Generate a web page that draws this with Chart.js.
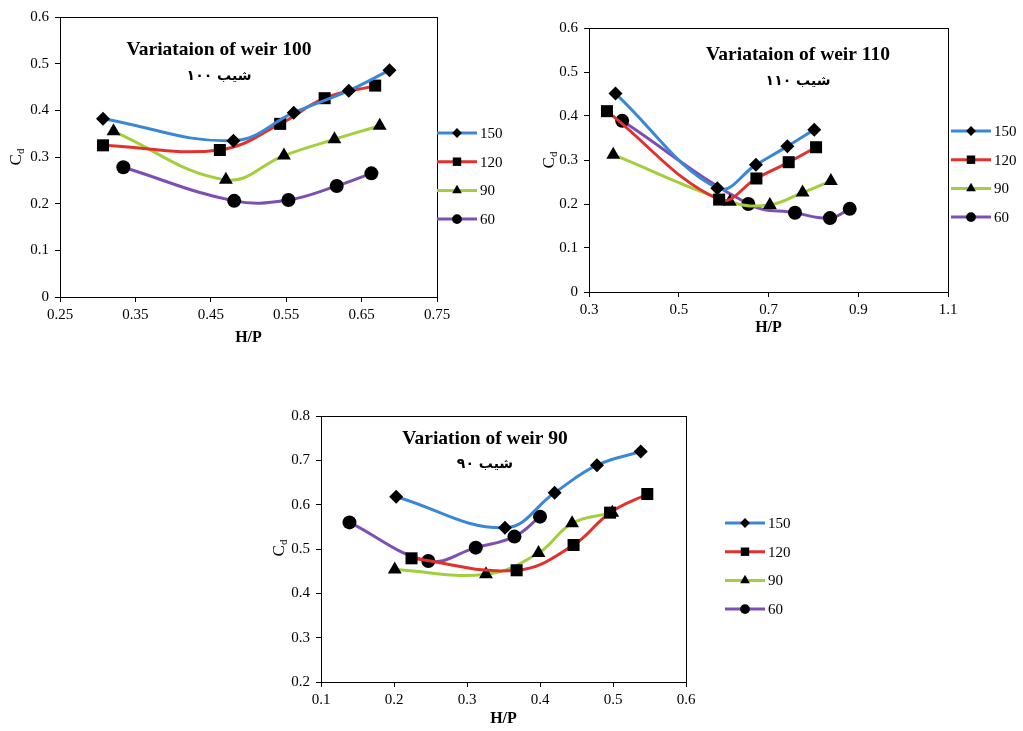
<!DOCTYPE html>
<html>
<head>
<meta charset="utf-8">
<script src="https://cdn.jsdelivr.net/npm/chart.js@4/dist/chart.umd.min.js"></script>
<style>
  body { margin: 0; background: #fff; width: 1023px; height: 731px; overflow: hidden; position: relative; }
  canvas { position: absolute; }
</style>
</head>
<body>
<canvas id="weir100" width="540" height="350" style="left:0px;top:0px"></canvas>
<canvas id="weir110" width="488" height="340" style="left:535px;top:0px"></canvas>
<canvas id="weir90" width="560" height="331" style="left:262px;top:400px"></canvas>
<script>
// series labels (discharge) and styles shared by all three charts
const seriesLabels = ['150', '120', '90', '60'];
const seriesColors = ['#3B87D6', '#E0312C', '#A4CF3C', '#7D4FB4'];
const seriesMarkers = ['rectRot', 'rect', 'triangle', 'circle'];
const markerRadius = [7, 8.5, 8, 7];

// weir 100
const w100_q150_x = [0.307, 0.480, 0.560, 0.633, 0.687];
const w100_q150_y = [0.382, 0.335, 0.395, 0.442, 0.486];
const w100_q120_x = [0.307, 0.462, 0.542, 0.601, 0.668];
const w100_q120_y = [0.325, 0.315, 0.371, 0.426, 0.453];
const w100_q90_x = [0.321, 0.470, 0.547, 0.614, 0.674];
const w100_q90_y = [0.355, 0.251, 0.303, 0.338, 0.367];
const w100_q60_x = [0.334, 0.481, 0.553, 0.617, 0.663];
const w100_q60_y = [0.278, 0.206, 0.208, 0.238, 0.265];

// weir 110
const w110_q150_x = [0.359, 0.586, 0.672, 0.742, 0.802];
const w110_q150_y = [0.451, 0.236, 0.289, 0.331, 0.369];
const w110_q120_x = [0.340, 0.590, 0.673, 0.745, 0.806];
const w110_q120_y = [0.411, 0.210, 0.258, 0.295, 0.329];
const w110_q90_x = [0.354, 0.614, 0.703, 0.776, 0.839];
const w110_q90_y = [0.312, 0.205, 0.198, 0.226, 0.252];
const w110_q60_x = [0.374, 0.655, 0.759, 0.837, 0.881];
const w110_q60_y = [0.389, 0.200, 0.180, 0.168, 0.189];

// weir 90
const w90_q150_x = [0.203, 0.352, 0.420, 0.478, 0.538];
const w90_q150_y = [0.618, 0.548, 0.627, 0.689, 0.720];
const w90_q120_x = [0.224, 0.368, 0.446, 0.496, 0.547];
const w90_q120_y = [0.479, 0.452, 0.509, 0.582, 0.624];
const w90_q90_x = [0.201, 0.326, 0.398, 0.444, 0.499];
const w90_q90_y = [0.454, 0.443, 0.491, 0.558, 0.582];
const w90_q60_x = [0.139, 0.247, 0.312, 0.365, 0.400];
const w90_q60_y = [0.560, 0.473, 0.503, 0.528, 0.573];

// tick values and labels
const w100_xTicks = [0.25, 0.35, 0.45, 0.55, 0.65, 0.75];
const w100_xLabels = ['0.25', '0.35', '0.45', '0.55', '0.65', '0.75'];
const w100_yTicks = [0, 0.1, 0.2, 0.3, 0.4, 0.5, 0.6];
const w100_yLabels = ['0', '0.1', '0.2', '0.3', '0.4', '0.5', '0.6'];
const w110_xTicks = [0.3, 0.5, 0.7, 0.9, 1.1];
const w110_xLabels = ['0.3', '0.5', '0.7', '0.9', '1.1'];
const w110_yTicks = [0, 0.1, 0.2, 0.3, 0.4, 0.5, 0.6];
const w110_yLabels = ['0', '0.1', '0.2', '0.3', '0.4', '0.5', '0.6'];
const w90_xTicks = [0.1, 0.2, 0.3, 0.4, 0.5, 0.6];
const w90_xLabels = ['0.1', '0.2', '0.3', '0.4', '0.5', '0.6'];
const w90_yTicks = [0.2, 0.3, 0.4, 0.5, 0.6, 0.7, 0.8];
const w90_yLabels = ['0.2', '0.3', '0.4', '0.5', '0.6', '0.7', '0.8'];

const serif = '"Liberation Serif", "Times New Roman", serif';

function toPoints(xs, ys) {
    return xs.map((x, i) => ({ x: x, y: ys[i] }));
}

// box around the plot area
const framePlugin = {
    id: 'frame',
    beforeDatasetsDraw(chart) {
        const a = chart.chartArea;
        const ctx = chart.ctx;
        ctx.save();
        ctx.strokeStyle = '#000';
        ctx.lineWidth = 1;
        ctx.strokeRect(Math.round(a.left) + 0.5, Math.round(a.top) + 0.5,
            Math.round(a.right - a.left), Math.round(a.bottom - a.top));
        ctx.restore();
    }
};

// titles inside the plot, the Cd axis title and the line+marker legend
const textPlugin = {
    id: 'texts',
    afterDraw(chart, args, opts) {
        const ctx = chart.ctx;
        const a = chart.chartArea;
        ctx.save();
        ctx.fillStyle = '#000';
        ctx.textAlign = 'center';
        ctx.textBaseline = 'middle';
        ctx.font = 'bold 19.5px ' + serif;
        ctx.fillText(opts.title, opts.titleX, opts.titleY);
        ctx.font = 'bold 14px "DejaVu Sans", sans-serif';
        ctx.direction = 'rtl';
        ctx.fillText(opts.subtitle, opts.titleX, opts.subY);
        ctx.direction = 'ltr';

        // y axis title C with subscript d
        ctx.translate(opts.yTitleX, opts.yTitleY);
        ctx.rotate(-Math.PI / 2);
        ctx.textAlign = 'left';
        ctx.textBaseline = 'alphabetic';
        ctx.font = '17px ' + serif;
        const cw = ctx.measureText('C').width;
        ctx.font = '11px ' + serif;
        const dw = ctx.measureText('d').width;
        const x0 = -(cw + dw) / 2;
        ctx.font = '17px ' + serif;
        ctx.fillText('C', x0, 6);
        ctx.font = '11px ' + serif;
        ctx.fillText('d', x0 + cw, 9);
        ctx.setTransform(1, 0, 0, 1, 0, 0);

        // legend
        chart.data.datasets.forEach((ds, i) => {
            const y = opts.legendTop + i * 28.7;
            const x0 = a.right + opts.legendLeft;
            const x1 = x0 + 40;
            ctx.strokeStyle = ds.borderColor;
            ctx.lineWidth = 3;
            ctx.beginPath();
            ctx.moveTo(x0, y);
            ctx.lineTo(x1, y);
            ctx.stroke();
            ctx.fillStyle = '#000';
            Chart.helpers.drawPoint(ctx, {
                pointStyle: ds.pointStyle,
                radius: ds.pointRadius * 0.7,
                rotation: 0,
                borderWidth: 0
            }, (x0 + x1) / 2, y);
            ctx.font = '15px ' + serif;
            ctx.textAlign = 'left';
            ctx.textBaseline = 'middle';
            ctx.fillText(ds.label, x1 + 3, y + 1);
        });
        ctx.restore();
    }
};

function buildChart(id, spec) {
    const datasets = spec.series.map((s, i) => ({
        label: seriesLabels[i],
        data: toPoints(s[0], s[1]),
        showLine: true,
        tension: 0.4,
        borderColor: seriesColors[i],
        borderWidth: 3,
        pointStyle: seriesMarkers[i],
        pointRadius: markerRadius[i],
        pointBackgroundColor: '#000',
        pointBorderColor: '#000',
        pointBorderWidth: 0
    }));

    const tickFont = { family: serif, size: 15 };

    return new Chart(document.getElementById(id), {
        type: 'scatter',
        data: { datasets: datasets },
        options: {
            responsive: false,
            animation: false,
            events: [],
            layout: { padding: { top: spec.top, right: spec.right, left: 0, bottom: 0 } },
            plugins: {
                legend: { display: false },
                tooltip: { enabled: false },
                texts: spec.texts
            },
            scales: {
                x: {
                    type: 'linear',
                    min: spec.xTicks[0],
                    max: spec.xTicks[spec.xTicks.length - 1],
                    afterBuildTicks: scale => { scale.ticks = spec.xTicks.map(v => ({ value: v })); },
                    afterFit: scale => { scale.height = spec.xHeight; },
                    grid: { drawOnChartArea: false, tickLength: 5, color: '#000' },
                    border: { color: '#000', width: 1 },
                    ticks: {
                        color: '#000', font: tickFont, padding: 4, maxRotation: 0,
                        callback: (v, i) => spec.xLabels[i]
                    },
                    title: {
                        display: true, text: 'H/P', color: '#000',
                        font: { family: serif, size: 16, weight: 'bold' },
                        padding: { top: 0, bottom: 3 }
                    }
                },
                y: {
                    type: 'linear',
                    min: spec.yTicks[0],
                    max: spec.yTicks[spec.yTicks.length - 1],
                    afterBuildTicks: scale => { scale.ticks = spec.yTicks.map(v => ({ value: v })); },
                    afterFit: scale => { scale.width = spec.yWidth; },
                    grid: { drawOnChartArea: false, tickLength: 5, color: '#000' },
                    border: { color: '#000', width: 1 },
                    ticks: {
                        color: '#000', font: tickFont, padding: 6,
                        callback: (v, i) => spec.yLabels[i]
                    }
                }
            }
        },
        plugins: [framePlugin, textPlugin]
    });
}

buildChart('weir100', {
    series: [[w100_q150_x, w100_q150_y], [w100_q120_x, w100_q120_y],
             [w100_q90_x, w100_q90_y], [w100_q60_x, w100_q60_y]],
    xTicks: w100_xTicks, xLabels: w100_xLabels,
    yTicks: w100_yTicks, yLabels: w100_yLabels,
    top: 17, right: 103, yWidth: 60, xHeight: 53,
    texts: {
        title: 'Variataion of weir 100', subtitle: 'شیب ۱۰۰',
        titleX: 219, titleY: 50, subY: 76,
        yTitleX: 15, yTitleY: 157,
        legendTop: 133, legendLeft: 0
    }
});

buildChart('weir110', {
    series: [[w110_q150_x, w110_q150_y], [w110_q120_x, w110_q120_y],
             [w110_q90_x, w110_q90_y], [w110_q60_x, w110_q60_y]],
    xTicks: w110_xTicks, xLabels: w110_xLabels,
    yTicks: w110_yTicks, yLabels: w110_yLabels,
    top: 28, right: 75, yWidth: 54, xHeight: 48,
    texts: {
        title: 'Variataion of weir 110', subtitle: 'شیب ۱۱۰',
        titleX: 263, titleY: 55, subY: 81,
        yTitleX: 13, yTitleY: 160,
        legendTop: 131, legendLeft: 3
    }
});

buildChart('weir90', {
    series: [[w90_q150_x, w90_q150_y], [w90_q120_x, w90_q120_y],
             [w90_q90_x, w90_q90_y], [w90_q60_x, w90_q60_y]],
    xTicks: w90_xTicks, xLabels: w90_xLabels,
    yTicks: w90_yTicks, yLabels: w90_yLabels,
    top: 16, right: 136, yWidth: 59, xHeight: 49,
    texts: {
        title: 'Variation of weir 90', subtitle: 'شیب ۹۰',
        titleX: 223, titleY: 39, subY: 64,
        yTitleX: 16, yTitleY: 148,
        legendTop: 123, legendLeft: 39
    }
});
</script>
</body>
</html>
